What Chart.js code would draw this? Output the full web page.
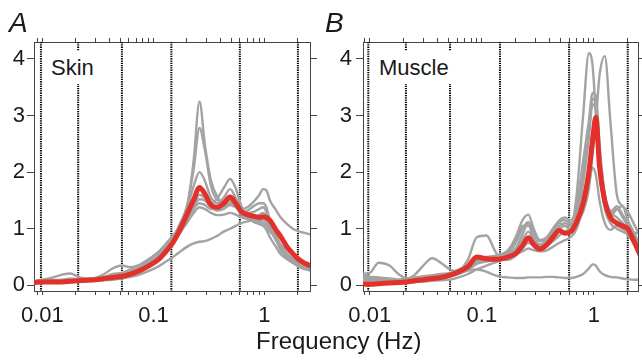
<!DOCTYPE html>
<html>
<head>
<meta charset="utf-8">
<script src="https://cdn.jsdelivr.net/npm/chart.js@4.4.1/dist/chart.umd.min.js"></script>
<style>
  body { margin: 0; background: #fff; width: 642px; height: 363px; position: relative; overflow: hidden;
         font-family: "Liberation Sans", Arial, sans-serif; color: #1a1a1a; }
  .panel { position: absolute; top: 0; height: 363px; }
  .tag { position: absolute; font-size: 28px; font-style: italic; line-height: 28px; }
  .name { position: absolute; background: #fff; font-size: 22px; line-height: 33px; padding: 0 4px; }
  #xtitle { position: absolute; left: 256px; top: 329px; font-size: 24px; line-height: 24px; white-space: nowrap; }
</style>
</head>
<body>
<div class="panel" style="left:0;width:320px"><canvas id="skin"></canvas></div>
<div class="panel" style="left:320px;width:322px"><canvas id="muscle"></canvas></div>
<div class="tag" style="left:9px;top:9px">A</div>
<div class="tag" style="left:325px;top:9px">B</div>
<div class="name" style="left:47px;top:51px">Skin</div>
<div class="name" style="left:375px;top:51px">Muscle</div>
<div id="xtitle">Frequency (Hz)</div>
<script>
// frequency grid (Hz) shared by every curve
const freqs = [0.0084, 0.01, 0.012, 0.015, 0.018, 0.021, 0.025, 0.03, 0.036, 0.043,
               0.052, 0.062, 0.075, 0.09, 0.11, 0.13, 0.15, 0.17, 0.2, 0.23,
               0.26, 0.29, 0.33, 0.38, 0.43, 0.49, 0.55, 0.62, 0.7, 0.8,
               0.9, 0.97, 1.04, 1.12, 1.25, 1.4, 1.6, 1.8, 2.0, 2.25, 2.6];

// band boundaries (dotted lines)
const bandEdges = [0.0097, 0.021, 0.052, 0.145, 0.6, 2.0];
const xTickVals = [0.009, 0.01, 0.02, 0.03, 0.04, 0.05, 0.06, 0.07, 0.08, 0.09,
                   0.1, 0.2, 0.3, 0.4, 0.5, 0.6, 0.7, 0.8, 0.9, 1, 2];
const xTickLabels = { 0.01: '0.01', 0.1: '0.1', 1: '1' };
const yTickVals = [0, 1, 2, 3, 4];

// Skin
const skinMean = [0.05,0.06,0.06,0.06,0.07,0.08,0.09,0.10,0.12,0.14,
                  0.16,0.20,0.26,0.34,0.45,0.60,0.76,0.95,1.25,1.51,
                  1.73,1.62,1.42,1.38,1.45,1.56,1.45,1.30,1.25,1.22,
                  1.20,1.21,1.20,1.15,1.00,0.86,0.68,0.56,0.47,0.40,0.34];
const skin1 = [0.06,0.07,0.07,0.08,0.08,0.09,0.10,0.11,0.13,0.15,
               0.18,0.22,0.30,0.40,0.52,0.65,0.78,0.98,1.35,2.20,
               3.25,2.50,1.85,1.55,1.45,1.50,1.40,1.25,1.18,1.15,
               1.15,1.15,1.10,0.98,0.82,0.65,0.52,0.44,0.38,0.33,0.29];
const skin2 = [0.05,0.06,0.07,0.07,0.08,0.08,0.09,0.10,0.12,0.14,
               0.17,0.21,0.28,0.38,0.50,0.66,0.82,1.05,1.40,2.05,
               2.78,2.40,1.75,1.50,1.48,1.58,1.50,1.32,1.20,1.18,
               1.20,1.22,1.15,1.00,0.85,0.66,0.52,0.44,0.38,0.33,0.30];
const skin3 = [0.07,0.08,0.09,0.10,0.12,0.11,0.10,0.12,0.15,0.20,
               0.22,0.28,0.36,0.46,0.58,0.72,0.86,1.05,1.35,1.75,
               2.00,1.85,1.55,1.45,1.55,1.70,1.55,1.35,1.28,1.30,
               1.35,1.38,1.30,1.10,0.90,0.70,0.56,0.47,0.40,0.34,0.30];
const skin4 = [0.08,0.10,0.13,0.19,0.21,0.15,0.12,0.12,0.13,0.15,
               0.18,0.24,0.32,0.44,0.58,0.74,0.88,1.02,1.22,1.42,
               1.60,1.55,1.45,1.55,1.72,1.88,1.72,1.40,1.22,1.12,
               1.08,1.05,0.98,0.85,0.70,0.55,0.46,0.40,0.35,0.31,0.28];
const skin5 = [0.04,0.05,0.06,0.07,0.08,0.09,0.10,0.13,0.20,0.30,
               0.35,0.32,0.36,0.45,0.58,0.70,0.80,0.95,1.15,1.35,
               1.45,1.42,1.35,1.35,1.40,1.45,1.42,1.35,1.38,1.48,
               1.60,1.70,1.68,1.50,1.35,1.20,1.08,1.00,0.96,0.93,0.90];
const skin6 = [0.04,0.05,0.05,0.06,0.06,0.07,0.07,0.08,0.09,0.10,
               0.12,0.15,0.19,0.25,0.33,0.42,0.50,0.58,0.68,0.74,
               0.77,0.78,0.82,0.88,0.95,1.00,1.05,1.10,1.13,1.15,
               1.12,1.10,1.05,0.95,0.85,0.72,0.62,0.55,0.48,0.42,0.38];
const skin7 = [0.05,0.06,0.06,0.07,0.08,0.08,0.09,0.10,0.12,0.14,
               0.16,0.20,0.27,0.36,0.48,0.63,0.78,0.95,1.20,1.40,
               1.52,1.50,1.38,1.32,1.35,1.42,1.38,1.30,1.32,1.40,
               1.45,1.45,1.38,1.15,0.92,0.70,0.55,0.46,0.38,0.31,0.27];
const skin8 = [0.05,0.05,0.06,0.06,0.07,0.08,0.08,0.09,0.11,0.12,
               0.14,0.18,0.24,0.32,0.44,0.58,0.72,0.90,1.10,1.28,
               1.38,1.35,1.28,1.24,1.25,1.28,1.25,1.20,1.18,1.20,
               1.25,1.28,1.22,1.05,0.85,0.62,0.48,0.40,0.34,0.29,0.26];

// Muscle
const muscleMean = [0.02,0.02,0.03,0.04,0.05,0.06,0.08,0.10,0.12,0.14,
                    0.18,0.24,0.33,0.50,0.47,0.46,0.47,0.50,0.56,0.70,
                    0.84,0.72,0.64,0.72,0.85,0.97,0.92,0.95,1.12,1.45,
                    2.00,2.55,2.97,2.10,1.48,1.20,1.10,1.05,1.00,0.80,0.52];
const muscle1 = [0.18,0.15,0.12,0.10,0.08,0.07,0.08,0.10,0.12,0.15,
                 0.20,0.26,0.34,0.42,0.48,0.50,0.52,0.56,0.65,0.90,
                 1.10,0.85,0.72,0.80,0.95,1.10,1.05,1.05,1.60,3.00,
                 4.10,3.90,3.00,2.00,1.40,1.20,1.35,1.20,1.05,0.85,0.60];
const muscle2 = [0.12,0.10,0.09,0.08,0.07,0.06,0.07,0.09,0.11,0.14,
                 0.18,0.24,0.32,0.40,0.45,0.48,0.50,0.54,0.62,0.80,
                 0.95,0.80,0.72,0.78,0.92,1.05,1.10,1.05,1.10,1.30,
                 1.70,2.30,2.90,3.70,4.05,2.90,1.60,1.40,1.30,1.10,0.85];
const muscle3 = [0.20,0.22,0.40,0.35,0.20,0.12,0.10,0.10,0.12,0.14,
                 0.18,0.24,0.32,0.42,0.48,0.50,0.52,0.60,0.85,1.15,
                 1.25,1.00,0.80,0.85,1.00,1.15,1.20,1.15,1.40,2.20,
                 2.90,3.40,3.35,2.50,1.60,1.30,1.40,1.25,1.10,0.90,0.65];
const muscle4 = [0.10,0.08,0.07,0.07,0.08,0.10,0.18,0.35,0.48,0.40,
                 0.28,0.24,0.28,0.38,0.42,0.45,0.48,0.55,0.75,1.00,
                 1.12,0.92,0.78,0.82,0.98,1.12,1.15,1.10,1.30,2.00,
                 2.70,3.30,3.20,2.40,1.60,1.30,1.20,1.10,1.00,0.85,0.62];
const muscle5 = [0.14,0.12,0.10,0.08,0.07,0.06,0.06,0.07,0.09,0.12,
                 0.16,0.24,0.45,0.85,0.88,0.62,0.45,0.45,0.52,0.65,
                 0.75,0.70,0.65,0.70,0.78,0.88,0.95,1.00,1.15,1.45,
                 1.80,2.08,1.95,1.50,1.10,0.98,1.05,1.00,0.95,0.93,0.92];
const muscle6 = [0.16,0.15,0.14,0.12,0.10,0.08,0.08,0.09,0.10,0.12,
                 0.15,0.20,0.26,0.28,0.24,0.18,0.15,0.14,0.13,0.13,
                 0.14,0.14,0.14,0.15,0.15,0.14,0.13,0.13,0.15,0.20,
                 0.30,0.37,0.35,0.25,0.18,0.15,0.14,0.12,0.11,0.10,0.10];
const muscle7 = [0.08,0.07,0.07,0.08,0.10,0.12,0.14,0.16,0.18,0.20,
                 0.22,0.28,0.36,0.45,0.50,0.52,0.55,0.62,0.80,1.05,
                 1.05,0.85,0.70,0.75,0.88,1.00,1.05,0.98,1.20,1.80,
                 2.60,3.20,3.10,2.30,1.50,1.25,1.35,1.40,1.15,0.95,0.70];
const muscle8 = [0.05,0.05,0.05,0.05,0.05,0.05,0.06,0.07,0.08,0.09,
                 0.10,0.14,0.20,0.28,0.35,0.40,0.45,0.50,0.55,0.60,
                 0.65,0.62,0.60,0.62,0.68,0.75,0.80,0.85,1.00,1.40,
                 2.00,2.70,2.70,2.00,1.35,1.10,1.00,0.95,0.90,0.75,0.55];

const skinSubjects = [skin1, skin2, skin3, skin4, skin5, skin6, skin7, skin8];
const muscleSubjects = [muscle1, muscle2, muscle3, muscle4, muscle5, muscle6, muscle7, muscle8];

Chart.defaults.font.family = '"Liberation Sans", Arial, sans-serif';
Chart.defaults.font.size = 22;
Chart.defaults.color = '#1a1a1a';

const toPoints = vals => vals.map((v, i) => ({ x: freqs[i], y: v }));

const bandLines = {
  id: 'bandLines',
  beforeDatasetsDraw(chart) {
    const { ctx, chartArea: a, scales: { x } } = chart;
    ctx.save();
    ctx.strokeStyle = '#000';
    ctx.lineWidth = 2;
    ctx.setLineDash([1.3, 1]);
    bandEdges.forEach(f => {
      const px = x.getPixelForValue(f);
      ctx.beginPath();
      ctx.moveTo(px, a.top);
      ctx.lineTo(px, a.bottom);
      ctx.stroke();
    });
    ctx.restore();
  }
};

function makePanel(id, subjects, mean, xMin, xMax, leftW, rightW, labelPad) {
  const datasets = subjects.map(s => ({
    data: toPoints(s), borderColor: '#a3a3a3', borderWidth: 2.4, order: 1
  }));
  datasets.push({ data: toPoints(mean), borderColor: '#e2302a', borderWidth: 5, order: 0 });

  const border = { display: true, color: '#444', width: 1 };
  const xCommon = {
    type: 'logarithmic', min: xMin, max: xMax, border,
    afterBuildTicks: s => { s.ticks = xTickVals.map(v => ({ value: v })); },
    grid: { drawOnChartArea: false, tickLength: 4, color: '#444' }
  };
  const yCommon = {
    min: -0.1, max: 4.3, border,
    afterBuildTicks: s => { s.ticks = yTickVals.map(v => ({ value: v })); },
    grid: { drawOnChartArea: false, tickLength: 7, color: '#444' }
  };

  return new Chart(document.getElementById(id), {
    type: 'line',
    data: { datasets },
    options: {
      responsive: true, maintainAspectRatio: false, animation: false, devicePixelRatio: 1,
      layout: { padding: 0 },
      elements: { point: { radius: 0 }, line: { cubicInterpolationMode: 'monotone' } },
      datasets: { line: { clip: 0 } },
      plugins: { legend: { display: false }, tooltip: { enabled: false } },
      scales: {
        x: Object.assign({}, xCommon, {
          position: 'bottom',
          ticks: { autoSkip: false, maxRotation: 0, padding: 8, callback: v => xTickLabels[v] || '' },
          afterFit: s => { s.height = 72; }
        }),
        x2: Object.assign({}, xCommon, {
          position: 'top',
          ticks: { autoSkip: false, maxRotation: 0, padding: 0, callback: () => '' },
          afterFit: s => { s.height = 42; }
        }),
        y: Object.assign({}, yCommon, {
          position: 'left',
          ticks: { padding: labelPad },
          afterFit: s => { s.width = leftW; }
        }),
        y2: Object.assign({}, yCommon, {
          position: 'right',
          ticks: { display: true, padding: 0, callback: () => '' },
          afterFit: s => { s.width = rightW; }
        })
      }
    },
    plugins: [bandLines]
  });
}

makePanel('skin', skinSubjects, skinMean, 0.0084, 2.57, 34, 10, 2);
makePanel('muscle', muscleSubjects, muscleMean, 0.0087, 2.47, 43, 4, 4);
</script>
</body>
</html>
